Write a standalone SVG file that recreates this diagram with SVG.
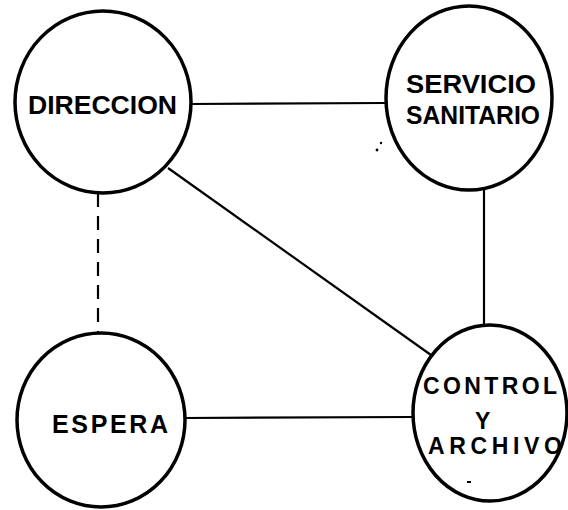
<svg xmlns="http://www.w3.org/2000/svg" width="568" height="510" viewBox="0 0 568 510">
<style>
.node{fill:#fff;stroke:#000;stroke-width:3.5}
.edge{stroke:#000;stroke-width:2.2;fill:none}
.dash{stroke-dasharray:14 9}
.lbl{font-family:"Liberation Sans",Arial,sans-serif;font-weight:bold;fill:#000}
</style>
<rect width="568" height="510" fill="#fff"/>
<g id="connectors">
<line class="edge" x1="190" y1="104" x2="386" y2="103"/>
<line class="edge" x1="168" y1="168" x2="431" y2="355"/>
<line class="edge dash" x1="98" y1="193" x2="98" y2="333"/>
<line class="edge" x1="484" y1="190" x2="484" y2="327"/>
<line class="edge" x1="185" y1="418" x2="412" y2="417"/>
</g>
<g id="direccion">
<ellipse class="node" cx="103" cy="102" rx="88" ry="91"/>
<text class="lbl" x="28" y="114" font-size="26" textLength="149" lengthAdjust="spacingAndGlyphs">DIRECCION</text>
</g>
<g id="servicio">
<ellipse class="node" cx="469" cy="98" rx="83" ry="92"/>
<text class="lbl" x="406" y="93" font-size="25" textLength="130" lengthAdjust="spacingAndGlyphs">SERVICIO</text>
<text class="lbl" x="406" y="124" font-size="25" textLength="134" lengthAdjust="spacingAndGlyphs">SANITARIO</text>
</g>
<g id="espera">
<ellipse class="node" cx="101" cy="420" rx="84" ry="87"/>
<text class="lbl" x="52" y="433" font-size="25" textLength="116" lengthAdjust="spacing">ESPERA</text>
</g>
<g id="control">
<ellipse class="node" cx="490" cy="413" rx="77" ry="88"/>
<text class="lbl" x="423" y="394" font-size="23" textLength="134" lengthAdjust="spacing">CONTROL</text>
<text class="lbl" x="475" y="429" font-size="23">Y</text>
<text class="lbl" x="428" y="454" font-size="23" textLength="134" lengthAdjust="spacing">ARCHIVO</text>
</g>
<g id="marks" fill="#000">
<circle cx="381" cy="143" r="1.2"/>
<circle cx="377" cy="150" r="1.4"/>
<rect x="467" y="481" width="4" height="2"/>
</g>
</svg>
